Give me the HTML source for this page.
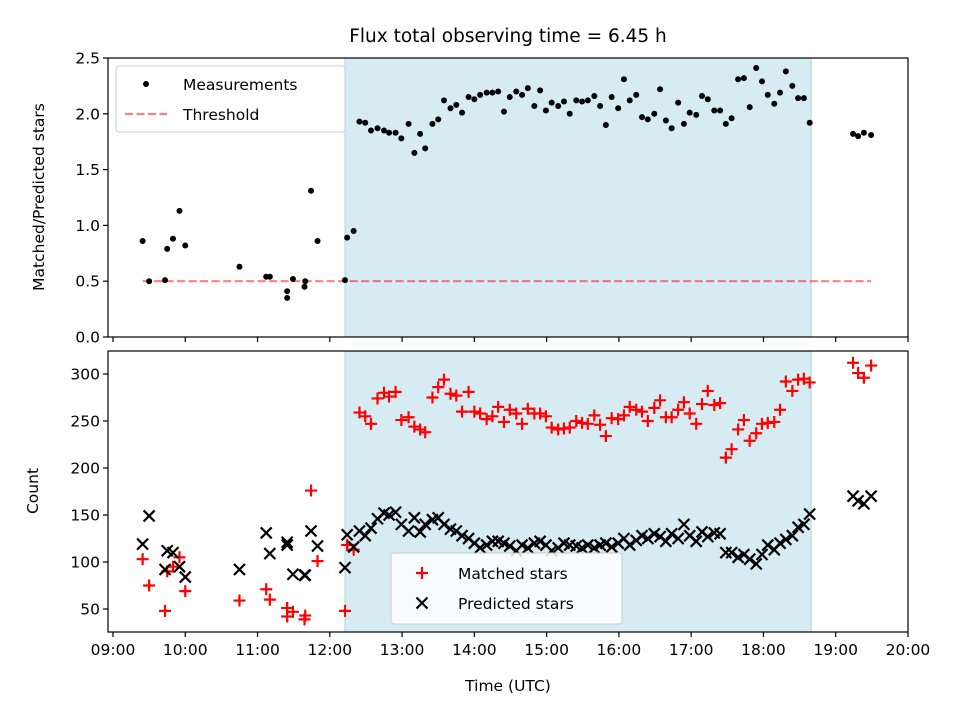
<!DOCTYPE html>
<html><head><meta charset="utf-8"><style>
body{margin:0;background:#fff;font-family:"Liberation Sans","DejaVu Sans",sans-serif}
svg text{font-family:"DejaVu Sans","Liberation Sans",sans-serif;fill:#000}
</style></head><body>
<svg id="c" width="960" height="720" xmlns="http://www.w3.org/2000/svg"></svg>
<script>
const topTimes=[9.41,9.50,9.72,9.75,9.83,9.92,10.00,10.75,11.12,11.17,11.41,11.41,11.49,11.65,11.66,11.74,11.83,12.21,12.24,12.33,
12.41,12.49,12.57,12.66,12.75,12.82,12.91,12.99,13.09,13.17,13.25,13.32,13.42,13.50,13.58,13.67,13.75,13.83,13.92,14.00,14.08,14.17,14.25,14.33,14.41,14.49,14.58,14.66,14.74,14.83,14.91,14.99,15.07,15.16,15.24,15.32,15.41,15.49,15.57,15.66,15.74,15.82,15.90,15.99,16.07,16.15,16.24,16.32,16.40,16.49,16.57,16.65,16.73,16.82,16.90,16.98,17.07,17.15,17.23,17.32,17.40,17.48,17.56,17.65,17.73,17.81,17.90,17.98,18.06,18.15,18.23,18.31,18.40,18.48,18.56,18.64,
19.24,19.31,19.39,19.49];
const ratioValues=[0.86,0.50,0.51,0.79,0.88,1.13,0.82,0.63,0.54,0.54,0.41,0.35,0.52,0.45,0.50,1.31,0.86,0.51,0.89,0.95,
1.93,1.92,1.85,1.87,1.85,1.83,1.83,1.78,1.91,1.65,1.82,1.69,1.91,1.95,2.12,2.05,2.08,2.01,2.15,2.13,2.17,2.19,2.19,2.20,2.02,2.15,2.20,2.17,2.23,2.07,2.21,2.03,2.10,2.07,2.11,2.00,2.12,2.11,2.12,2.16,2.07,1.90,2.15,2.05,2.31,2.12,2.17,1.97,1.95,2.00,2.22,1.94,1.87,2.10,1.91,2.01,1.99,2.16,2.13,2.03,2.03,1.91,1.96,2.31,2.32,2.06,2.41,2.29,2.17,2.09,2.19,2.38,2.25,2.14,2.14,1.92,
1.82,1.80,1.83,1.81];
const matchedValues=[103,75,48,90,95,105,69,59,71,60,51,42,47,39,43,176,101,48,118,113,
259,255,247,274,280,276,281,251,254,244,241,238,275,286,294,279,277,260,281,260,258,252,255,265,249,262,258,247,263,258,258,255,243,241,242,243,250,248,247,256,246,234,253,252,
256,265,262,260,250,264,272,254,254,262,270,258,247,268,282,267,269,211,220,241,251,229,237,247,248,249,262,292,282,294,295,291,
312,301,296,309];
const predictedValues=[119,149,92,112,110,95,84,92,131,109,121,118,87,86,86,133,117,94,129,116,
133,128,136,146,152,150,153,140,133,147,132,140,145,147,140,135,133,128,125,120,115,118,122,122,120,117,112,118,115,120,122,118,112,115,120,118,117,115,118,115,118,120,116,120,
125,118,123,128,125,130,127,122,130,125,140,128,122,132,127,131,130,110,110,105,108,103,98,108,118,113,120,124,128,137,140,151,
170,165,162,170];
const xTickLabels=["09:00","10:00","11:00","12:00","13:00","14:00","15:00","16:00","17:00","18:00","19:00","20:00"];
const xTickHours=[9,10,11,12,13,14,15,16,17,18,19,20];
const topYTicks=[0.0,0.5,1.0,1.5,2.0,2.5];
const botYTicks=[50,100,150,200,250,300];
const threshold=[9.41,19.49,0.5];
const shadeSpan=[12.21,18.66];

const NS="http://www.w3.org/2000/svg";
const svg=document.getElementById('c');
function el(tag,attrs,parent){const e=document.createElementNS(NS,tag);for(const k in attrs)e.setAttribute(k,attrs[k]);(parent||svg).appendChild(e);return e;}
const L=108,R=908,T1=58,B1=337,T2=351,B2=632;
const xs=h=>113+(h-9)*72.27;
const y1=v=>337-v*111.6;
const y2=v=>609-(v-50)*0.94;

// shading
let s=el('rect',{x:xs(shadeSpan[0]),y:T1,width:xs(shadeSpan[1])-xs(shadeSpan[0]),height:B1-T1,fill:'#add8e6','fill-opacity':0.5,stroke:'#add8e6'});

s=el('rect',{x:xs(shadeSpan[0]),y:T2,width:xs(shadeSpan[1])-xs(shadeSpan[0]),height:B2-T2,fill:'#add8e6','fill-opacity':0.5,stroke:'#add8e6'});


// threshold
let th=el('line',{x1:xs(threshold[0]),x2:xs(threshold[1]),y1:y1(threshold[2]),y2:y1(threshold[2]),stroke:'#ff0000','stroke-opacity':0.5,'stroke-width':2.2,'stroke-dasharray':'8,3.5'});


// measurements
topTimes.forEach((t,i)=>{const c=el('circle',{cx:xs(t),cy:y1(ratioValues[i]),r:3,fill:'#000'});
});
// matched +
topTimes.forEach((t,i)=>{const x=xs(t),y=y2(matchedValues[i]),d=6;
const p=el('path',{d:`M${x-d},${y}H${x+d}M${x},${y-d}V${y+d}`,stroke:'#ff0000','stroke-width':2.2});
});
// predicted x
topTimes.forEach((t,i)=>{const x=xs(t),y=y2(predictedValues[i]),d=5.5;
const p=el('path',{d:`M${x-d},${y-d}L${x+d},${y+d}M${x-d},${y+d}L${x+d},${y-d}`,stroke:'#000','stroke-width':2.2});
});

// axes frames
let f=el('rect',{x:L,y:T1,width:R-L,height:B1-T1,fill:'none',stroke:'#000','stroke-width':1.2});

f=el('rect',{x:L,y:T2,width:R-L,height:B2-T2,fill:'none',stroke:'#000','stroke-width':1.2});


// x ticks
xTickHours.forEach((h,i)=>{const x=xs(h);
el('line',{x1:x,x2:x,y1:B1,y2:B1+5,stroke:'#000','stroke-width':1.2});
el('line',{x1:x,x2:x,y1:B2,y2:B2+5,stroke:'#000','stroke-width':1.2});
const tx=el('text',{x:x,y:B2+23,'font-size':15.5,'text-anchor':'middle'});tx.textContent=xTickLabels[i];
});
topYTicks.forEach(v=>{const y=y1(v);
el('line',{x1:L-5,x2:L,y1:y,y2:y,stroke:'#000','stroke-width':1.2});
const tx=el('text',{x:L-8,y:y+5.5,'font-size':15.5,'text-anchor':'end'});tx.textContent=v.toFixed(1);
});
botYTicks.forEach(v=>{const y=y2(v);
el('line',{x1:L-5,x2:L,y1:y,y2:y,stroke:'#000','stroke-width':1.2});
const tx=el('text',{x:L-8,y:y+5.5,'font-size':15.5,'text-anchor':'end'});tx.textContent=v;
});
</script>
<svg style="position:absolute;left:0;top:0" width="960" height="720">
<text x="508" y="42" font-size="18.5" text-anchor="middle">Flux total observing time = 6.45 h</text>
<text x="508" y="691" font-size="15.5" text-anchor="middle">Time (UTC)</text>
<text transform="translate(44,197) rotate(-90)" font-size="15.5" text-anchor="middle">Matched/Predicted stars</text>
<text transform="translate(38,491) rotate(-90)" font-size="15.5" text-anchor="middle">Count</text>
<g>
<rect x="116" y="66" width="229" height="66" rx="3" fill="#fff" fill-opacity="0.85" stroke="#ccc"/>
<circle cx="146" cy="84" r="3" fill="#000"/>
<text x="183" y="90" font-size="15.5">Measurements</text>
<line x1="125" x2="167" y1="114" y2="114" stroke="#ff0000" stroke-opacity="0.5" stroke-width="2.2" stroke-dasharray="8,3.5"/>
<text x="183" y="120" font-size="15.5">Threshold</text>
</g>
<g>
<rect x="391" y="553" width="231" height="71" rx="3" fill="#fff" fill-opacity="0.85" stroke="#ccc"/>
<path d="M416,573H428M422,567V579" stroke="#ff0000" stroke-width="2.2"/>
<text x="458" y="579" font-size="15.5">Matched stars</text>
<path d="M416.5,597.5L427.5,608.5M416.5,608.5L427.5,597.5" stroke="#000" stroke-width="2.2"/>
<text x="458" y="609" font-size="15.5">Predicted stars</text>
</g>
</svg>
</body></html>
